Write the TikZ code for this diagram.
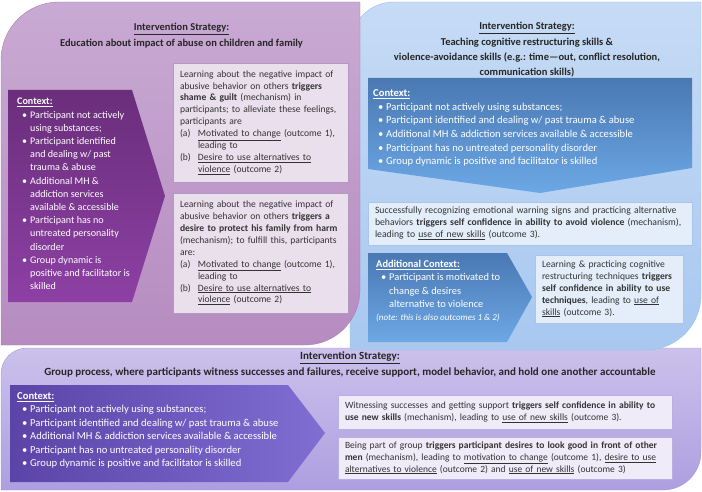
\documentclass[tikz,border=0pt]{standalone}
\usepackage{fontspec}
\setmainfont{Carlito}

\definecolor{mauveTop}{HTML}{C9AAD3}
\definecolor{mauveBot}{HTML}{B68CC0}
\definecolor{mauveLine}{HTML}{A880B4}
\definecolor{blueTop}{HTML}{C6DBF5}
\definecolor{blueBot}{HTML}{A8C8F0}
\definecolor{blueLine}{HTML}{9DBCE6}
\definecolor{lavTop}{HTML}{CBC1EB}
\definecolor{lavBot}{HTML}{AD9FE0}
\definecolor{lavLine}{HTML}{A597D8}
\definecolor{plumTop}{HTML}{6A2E7B}
\definecolor{plumBot}{HTML}{8D40A4}
\definecolor{steelTop}{HTML}{4A78B2}
\definecolor{steelBot}{HTML}{6CA8E6}
\definecolor{violetL}{HTML}{5A44A8}
\definecolor{violetR}{HTML}{806ED2}
\definecolor{eduFill}{HTML}{EADFED}
\definecolor{eduLine}{HTML}{B697C1}
\definecolor{skillFill}{HTML}{E3EEFA}
\definecolor{skillLine}{HTML}{A9C6EA}
\definecolor{groupFill}{HTML}{EFEBF9}
\definecolor{groupLine}{HTML}{B9AFE0}

\newcommand{\ctxbul}{\hspace*{5pt}\makebox[8pt][l]{\textbullet}}
\newcommand{\ctxind}{\hspace*{13pt}}
\newcommand{\outlab}[1]{\makebox[18pt][l]{#1}}
\newcommand{\outind}{\hspace*{18pt}}

\tikzset{
  titletext/.style={align=center, inner sep=0pt, text=black!85,
    font=\bfseries\fontsize{10.5}{15.3}\selectfont},
  ctxtext/.style={align=left, anchor=west, inner sep=0pt, text=white,
    font=\fontsize{10.1}{13.2}\selectfont},
  findbox/.style={align=left, inner xsep=7pt, inner ysep=0pt, text=black!80,
    font=\fontsize{9.6}{11.9}\selectfont},
  edubox/.style={findbox, fill=eduFill, draw=eduLine},
  skillbox/.style={findbox, fill=skillFill, draw=skillLine},
  groupbox/.style={findbox, fill=groupFill, draw=groupLine},
}

\begin{document}
\begin{tikzpicture}[x=1pt,y=-1pt]
  \useasboundingbox (0,0) rectangle (702,492);

  % 背景
  \shade[top color=lavTop, bottom color=lavBot, draw=lavLine]
    (1,490) -- (1,374) arc[start angle=180,end angle=270,radius=26] -- (701,348)
    -- (701,452) arc[start angle=0,end angle=90,radius=38] -- cycle;
  \shade[top color=blueTop, bottom color=blueBot, draw=blueLine]
    (350,350) -- (350,46) arc[start angle=180,end angle=270,radius=44] -- (701,2)
    -- (701,295) arc[start angle=0,end angle=90,radius=55] -- cycle;
  \shade[top color=mauveTop, bottom color=mauveBot, draw=mauveLine]
    (1,345) -- (1,60) arc[start angle=180,end angle=270,radius=58] -- (360,2)
    -- (360,290) arc[start angle=0,end angle=90,radius=55] -- cycle;

  % 矢印
  \shade[top color=plumTop, bottom color=plumBot]
    (8,90) -- (132,90) -- (165,196) -- (132,302) -- (8,302) -- cycle;
  \shade[top color=steelTop, bottom color=steelBot]
    (368,78) -- (692,78) -- (692,168) -- (540,193) -- (368,169) -- cycle;
  \shade[top color=steelTop, bottom color=steelBot]
    (368,253) -- (507,253) -- (532,297) -- (507,342) -- (368,342) -- cycle;
  \shade[left color=violetL, right color=violetR]
    (10,385) -- (288,385) -- (325,433) -- (288,482) -- (10,482) -- cycle;

  % 見出し
  \node[titletext] (eduTitle) at (181.5,35.5)
    {\underline{Intervention Strategy:}\\Education about impact of abuse on children and family};
  \node[titletext] (skillTitle) at (527,50)
    {\underline{Intervention Strategy:}\\Teaching cognitive restructuring skills \&\\
     violence-avoidance skills (e.g.: time---out, conflict resolution,\\communication skills)};
  \node[titletext, font=\bfseries\fontsize{11}{15.3}\selectfont] (groupTitle) at (350,364.5)
    {\underline{Intervention Strategy:}\\Group process, where participants witness successes and failures, receive support, model behavior, and hold one another accountable};

  % 文脈
  \node[ctxtext] (eduCtx) at (17,194)
    {\underline{\textbf{Context:}}\\
     \ctxbul Participant not actively\\
     \ctxind using substances;\\
     \ctxbul Participant identified\\
     \ctxind and dealing w/ past\\
     \ctxind trauma \& abuse\\
     \ctxbul Additional MH \&\\
     \ctxind addiction services\\
     \ctxind available \& accessible\\
     \ctxbul Participant has no\\
     \ctxind untreated personality\\
     \ctxind disorder\\
     \ctxbul Group dynamic is\\
     \ctxind positive and facilitator is\\
     \ctxind skilled};
  \node[ctxtext, font=\fontsize{10.6}{13.6}\selectfont] (skillCtx) at (373,128)
    {\underline{\textbf{Context:}}\\
     \ctxbul Participant not actively using substances;\\
     \ctxbul Participant identified and dealing w/ past trauma \& abuse\\
     \ctxbul Additional MH \& addiction services available \& accessible\\
     \ctxbul Participant has no untreated personality disorder\\
     \ctxbul Group dynamic is positive and facilitator is skilled};
  \node[ctxtext, font=\fontsize{10.4}{13.2}\selectfont] (addCtx) at (376,291)
    {\underline{\textbf{Additional Context:}}\\
     \ctxbul Participant is motivated to\\
     \ctxind change \& desires\\
     \ctxind alternative to violence\\
     {\fontsize{9}{12}\selectfont\itshape (note: this is also outcomes 1 \& 2)}};
  \node[ctxtext, font=\fontsize{10.6}{13.5}\selectfont] (groupCtx) at (17,430.5)
    {\underline{\textbf{Context:}}\\
     \ctxbul Participant not actively using substances;\\
     \ctxbul Participant identified and dealing w/ past trauma \& abuse\\
     \ctxbul Additional MH \& addiction services available \& accessible\\
     \ctxbul Participant has no untreated personality disorder\\
     \ctxbul Group dynamic is positive and facilitator is skilled};

  % 結果の箱
  \node[edubox, minimum width=175, minimum height=119, text width=161] (shame) at (260.5,122.5)
    {Learning about the negative impact of\\
     abusive behavior on others \textbf{triggers}\\
     \textbf{shame \& guilt} (mechanism) in\\
     participants; to alleviate these feelings,\\
     participants are\\
     \outlab{(a)}\underline{Motivated to change} (outcome 1),\\
     \outind leading to\\
     \outlab{(b)}\underline{Desire to use alternatives to}\\
     \outind\underline{violence} (outcome 2)};
  \node[edubox, minimum width=175, minimum height=120, text width=161] (protect) at (260.5,253)
    {Learning about the negative impact of\\
     abusive behavior on others \textbf{triggers a}\\
     \textbf{desire to protect his family from harm}\\
     (mechanism); to fulfill this, participants\\
     are:\\
     \outlab{(a)}\underline{Motivated to change} (outcome 1),\\
     \outind leading to\\
     \outlab{(b)}\underline{Desire to use alternatives to}\\
     \outind\underline{violence} (outcome 2)};
  \node[skillbox, minimum width=324, minimum height=43, text width=310,
        font=\fontsize{9.7}{11.9}\selectfont] (avoid) at (530,223.5)
    {Successfully recognizing emotional warning signs and practicing alternative\\
     behaviors \textbf{triggers self confidence in ability to avoid violence} (mechanism),\\
     leading to \underline{use of new skills} (outcome 3).};
  \node[skillbox, minimum width=148, minimum height=68, text width=134] (techn) at (609,289)
    {Learning \& practicing cognitive\\
     restructuring techniques \textbf{triggers}\\
     \textbf{self confidence in ability to use}\\
     \textbf{techniques}, leading to \underline{use of}\\
     \underline{skills} (outcome 3).};
  \node[groupbox, minimum width=334, minimum height=34, text width=320,
        font=\fontsize{9.5}{11.9}\selectfont] (witness) at (505,412)
    {Witnessing successes and getting support \textbf{triggers self confidence in ability to}\\
     \textbf{use new skills} (mechanism), leading to \underline{use of new skills} (outcome 3).};
  \node[groupbox, minimum width=334, minimum height=42, text width=320,
        font=\fontsize{9.5}{11.9}\selectfont] (lookgood) at (505,458)
    {Being part of group \textbf{triggers participant desires to look good in front of other}\\
     \textbf{men} (mechanism), leading to \underline{motivation to change} (outcome 1), \underline{desire to use}\\
     \underline{alternatives to violence} (outcome 2) and \underline{use of new skills} (outcome 3)};
\end{tikzpicture}
\end{document}
